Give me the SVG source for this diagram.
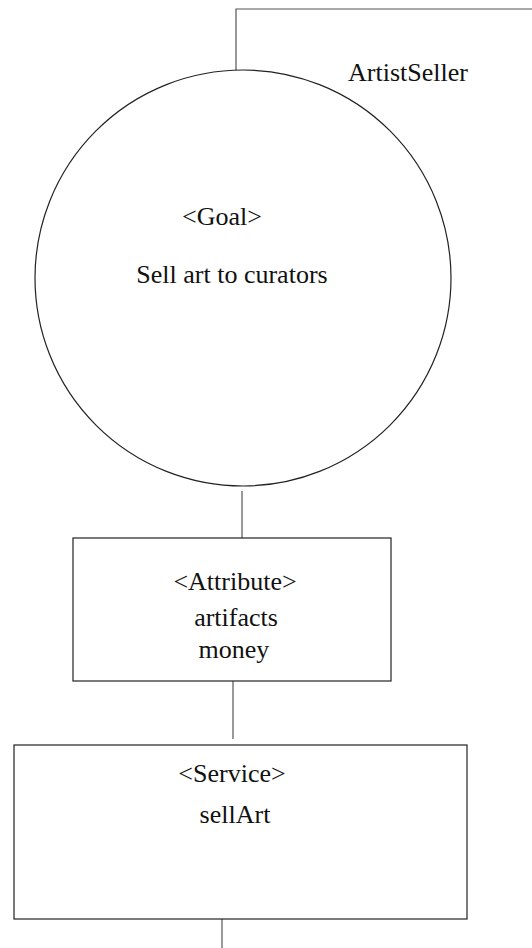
<svg xmlns="http://www.w3.org/2000/svg" width="532" height="948" viewBox="0 0 532 948">
<style>
.shape{fill:#fff;stroke:#222;stroke-width:1.2}
.conn{fill:none;stroke:#555;stroke-width:1.2}
.t{font-family:"Liberation Serif","Times New Roman",serif;font-size:26px;fill:#111;text-anchor:middle}
</style>
<rect width="532" height="948" fill="#fff"/>
<g id="connectors">
<polyline class="conn" points="236,71 236,9 532,9"/>
<line class="conn" x1="242" y1="491" x2="242" y2="538"/>
<line class="conn" x1="233" y1="681" x2="233" y2="739"/>
<line class="conn" x1="222" y1="919" x2="222" y2="948"/>
</g>
<g id="actor">
<text class="t" x="408" y="81">ArtistSeller</text>
</g>
<g id="goal">
<circle class="shape" cx="243" cy="278" r="208"/>
<text class="t" x="222" y="225">&lt;Goal&gt;</text>
<text class="t" x="232" y="283">Sell art to curators</text>
</g>
<g id="attribute">
<rect class="shape" x="73" y="538" width="318" height="143"/>
<text class="t" x="235" y="590">&lt;Attribute&gt;</text>
<text class="t" x="236" y="626">artifacts</text>
<text class="t" x="234" y="658">money</text>
</g>
<g id="service">
<rect class="shape" x="14" y="745" width="453" height="174"/>
<text class="t" x="232" y="782">&lt;Service&gt;</text>
<text class="t" x="235" y="823">sellArt</text>
</g>
</svg>
